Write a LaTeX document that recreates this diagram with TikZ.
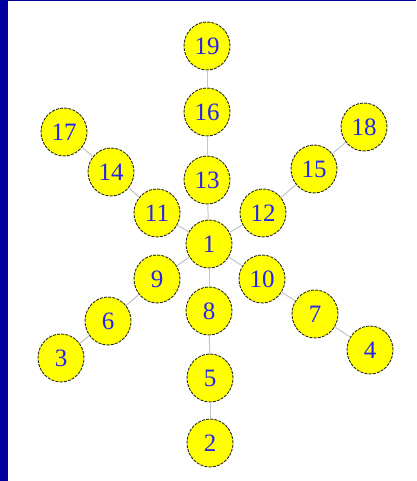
\documentclass[tikz,border=0pt]{standalone}
\usepackage{fontspec}
\setmainfont{Liberation Serif}
\usetikzlibrary{shapes.geometric}
\definecolor{framebl}{HTML}{0000A0}
\definecolor{vtxyellow}{HTML}{FFFF00}
\definecolor{vtxtext}{HTML}{2424F0}
\definecolor{edgegrey}{HTML}{C4C4CC}
\tikzstyle{link} = [draw=edgegrey, line width=1pt]

\begin{document}
\begin{tikzpicture}[x=1pt, y=-1pt,
    vtx/.style={ellipse, draw=black!85, dash pattern=on 3pt off 1.2pt, line width=0.9pt,
      fill=vtxyellow, minimum width=46pt, minimum height=48pt, inner sep=0pt,
      text=vtxtext, font=\fontsize{25}{25}\selectfont}
  ]
    \useasboundingbox (0,0) rectangle (416,481);
    \fill[white] (0,0) rectangle (416,481);
    \fill[framebl] (0,0) rectangle (8,481);
    \fill[framebl] (0,0) rectangle (416,1.5);

    % vertical chain
    \node[vtx] (n19) at (207,46) {19};
    \node[vtx] (n16) at (207,112) {16};
    \node[vtx] (n13) at (207,180) {13};
    \node[vtx] (n1) at (209,244) {1};
    \node[vtx] (n8) at (209,311) {8};
    \node[vtx] (n5) at (210,378) {5};
    \node[vtx] (n2) at (210,443) {2};
    % upper left arm
    \node[vtx] (n11) at (157,213) {11};
    \node[vtx] (n14) at (111,172) {14};
    \node[vtx] (n17) at (64,132) {17};
    % upper right arm
    \node[vtx] (n12) at (263,213) {12};
    \node[vtx] (n15) at (314,169) {15};
    \node[vtx] (n18) at (364,127) {18};
    % lower left arm
    \node[vtx] (n9) at (157,279) {9};
    \node[vtx] (n6) at (108,321) {6};
    \node[vtx] (n3) at (61,358) {3};
    % lower right arm
    \node[vtx] (n10) at (262,279) {10};
    \node[vtx] (n7) at (315,314) {7};
    \node[vtx] (n4) at (370,350) {4};

    \foreach \a/\b in {19/16, 16/13, 13/1, 1/8, 8/5, 5/2,
                       1/11, 11/14, 14/17, 1/12, 12/15, 15/18,
                       1/9, 9/6, 6/3, 1/10, 10/7, 7/4}
      \draw[link] (n\a) -- (n\b);
\end{tikzpicture}
\end{document}
